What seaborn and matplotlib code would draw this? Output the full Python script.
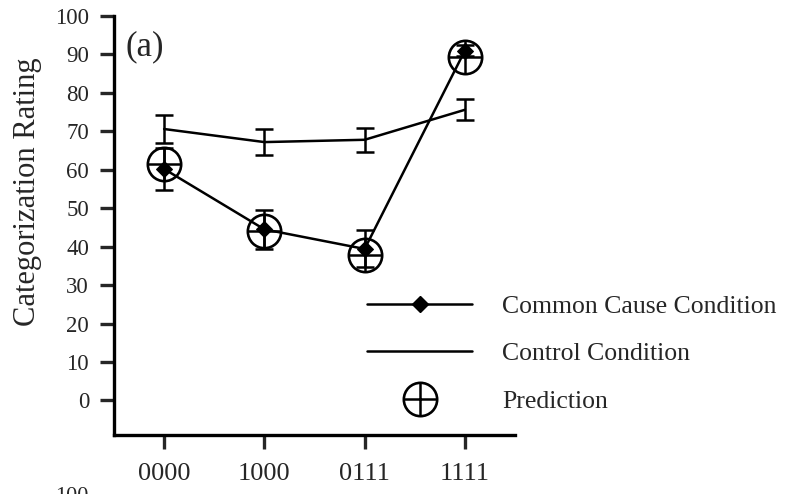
import matplotlib
matplotlib.use("Agg")
import matplotlib.pyplot as plt
import seaborn as sns
import pandas as pd
import numpy as np
from matplotlib.lines import Line2D
from matplotlib.legend_handler import HandlerTuple

sns.set_style("white")
plt.rcParams['font.family'] = ['Liberation Serif', 'DejaVu Serif']

categories = ["0000", "1000", "0111", "1111"]
common_cause = [60.2, 44.5, 39.4, 91.0]
common_cause_err = [5.5, 5.0, 4.8, 1.5]
control = [70.6, 67.2, 67.8, 75.6]
control_err = [3.6, 3.3, 3.1, 2.7]
prediction = [61.5, 44.0, 37.8, 89.3]
y_ticks = [0, 10, 20, 30, 40, 50, 60, 70, 80, 90, 100]

fig = plt.figure(figsize=(7.96, 4.94), dpi=100)
ax = fig.add_axes([114/796, 1-435/494, (515-114)/796, (435-16)/494])

x = np.arange(len(categories))
df = pd.DataFrame({"x": np.concatenate([x, x]),
                   "y": common_cause + control,
                   "cond": ["Common Cause Condition"]*4 + ["Control Condition"]*4})

lw = 1.8
sns.lineplot(data=df[df.cond == "Control Condition"], x="x", y="y", ax=ax,
             color="black", lw=lw, legend=False)
ax.errorbar(x, control, yerr=control_err, fmt="none", ecolor="black",
            elinewidth=lw, capsize=6.5, capthick=lw)
sns.lineplot(data=df[df.cond == "Common Cause Condition"], x="x", y="y", ax=ax,
             color="black", lw=lw, marker="D", markersize=8.5,
             markerfacecolor="black", markeredgecolor="black", legend=False)
ax.errorbar(x, common_cause, yerr=common_cause_err, fmt="none", ecolor="black",
            elinewidth=lw, capsize=6.5, capthick=lw)
ax.plot(x, prediction, ls="none", marker="o", markersize=24, fillstyle="none",
        markeredgecolor="black", markeredgewidth=1.9)
ax.plot(x, prediction, ls="none", marker="+", markersize=24,
        markeredgecolor="black", markeredgewidth=1.8)

ax.set_xlim(-0.5, 3.5)
ax.set_ylim(-9, 100)
ax.set_xticks(x)
ax.set_xticklabels(categories)
ax.set_yticks(y_ticks)
ax.set_xlabel("")
ax.set_ylabel("")
for s in ["top", "right"]:
    ax.spines[s].set_visible(False)
for s in ["left", "bottom"]:
    ax.spines[s].set_linewidth(2.4)
    ax.spines[s].set_color("black")
ax.tick_params(axis="y", direction="out", length=10, width=2.4, labelsize=16.5, pad=8, left=True)
ax.tick_params(axis="x", direction="out", length=10, width=2.4, labelsize=19, pad=10, bottom=True)

fig.text(28/796, 1-192/494, "Categorization Rating", rotation=90, fontsize=22,
         ha="center", va="center")
fig.text(125/796, 1-47/494, "(a)", fontsize=25, va="center", ha="left")

h1 = Line2D([], [], color="black", lw=lw, marker="D", markersize=8.5)
h2 = Line2D([], [], color="black", lw=lw)
h3a = Line2D([], [], ls="none", marker="o", markersize=24, fillstyle="none",
             markeredgecolor="black", markeredgewidth=1.9)
h3b = Line2D([], [], ls="none", marker="+", markersize=24,
             markeredgecolor="black", markeredgewidth=1.8)
leg = fig.legend([h1, h2, (h3a, h3b)], ["Common Cause Condition", "Control Condition", "Prediction"],
                 handler_map={tuple: HandlerTuple(ndivide=1, pad=0)},
                 loc="upper left", bbox_to_anchor=(367/796, 1-295/494), frameon=False,
                 borderpad=0, borderaxespad=0,
                 fontsize=18.5, handlelength=4.1, labelspacing=0.95, handletextpad=1.15)

fig.text(55/796, 1-487/494, "100", fontsize=16, va="top", ha="left")

fig.savefig("out.png", dpi=100)
